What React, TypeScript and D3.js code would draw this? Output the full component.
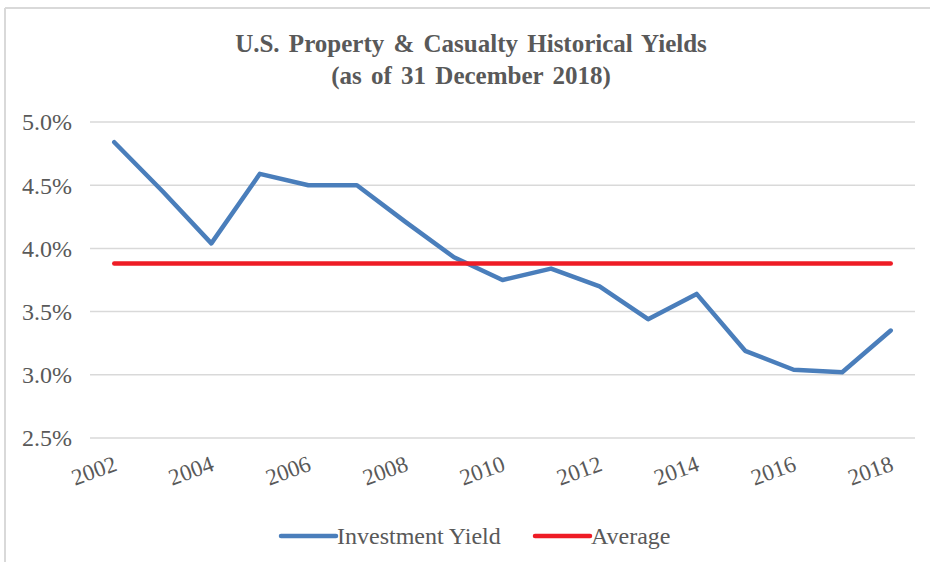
import React from "react";
import * as d3 from "d3";

const years = [2002, 2003, 2004, 2005, 2006, 2007, 2008, 2009, 2010, 2011, 2012, 2013, 2014, 2015, 2016, 2017, 2018];
const investmentYield = [4.84, 4.45, 4.04, 4.59, 4.5, 4.5, 4.21, 3.93, 3.75, 3.84, 3.7, 3.44, 3.64, 3.19, 3.04, 3.02, 3.35];
const averageYield = 3.88;
const yTicks = [2.5, 3.0, 3.5, 4.0, 4.5, 5.0];
const xTickYears = [2002, 2004, 2006, 2008, 2010, 2012, 2014, 2016, 2018];
const titleLines = ["U.S. Property & Casualty Historical Yields", "(as of 31 December 2018)"];
const legendItems = [
  { label: "Investment Yield", color: "#4a7ebb" },
  { label: "Average", color: "#ee1c25" },
];

const W = 930;
const H = 562;
const FONT = "'Liberation Serif', 'Times New Roman', serif";
const TEXT = "#595959";

export default function App() {
  const x = d3.scalePoint<number>().domain(years).range([90, 915]).padding(0.5);
  const y = d3.scaleLinear().domain([2.5, 5.0]).range([438, 122]);

  const lineGen = d3
    .line<number>()
    .x((_, i) => x(years[i]) as number)
    .y((d) => y(d));

  const avgPath = d3
    .line<number>()
    .x((yr) => x(yr) as number)
    .y(() => y(averageYield))([years[0], years[years.length - 1]]);

  return (
    <svg
      width={W}
      height={H}
      style={{ position: "absolute", left: 0, top: 0, background: "#fff" }}
    >
      <rect x={0} y={0} width={W} height={H} fill="#fff" />
      {/* frame */}
      <line x1={5} y1={8} x2={W} y2={8} stroke="#d9d9d9" strokeWidth={2} />
      <line x1={5} y1={8} x2={5} y2={H} stroke="#d9d9d9" strokeWidth={2} />

      {/* title */}
      {titleLines.map((t, i) => (
        <text
          key={t}
          x={471}
          y={52 + i * 32}
          textAnchor="middle"
          fontFamily={FONT}
          fontWeight="bold"
          fontSize={25}
          wordSpacing={3}
          fill={TEXT}
        >
          {t}
        </text>
      ))}

      {/* gridlines */}
      {yTicks.map((t) => (
        <line key={t} x1={90} x2={915} y1={y(t)} y2={y(t)} stroke="#d9d9d9" strokeWidth={1.5} />
      ))}

      {/* y labels */}
      {yTicks.map((t) => (
        <text
          key={"yl" + t}
          x={72}
          y={y(t)}
          dy="0.35em"
          textAnchor="end"
          fontFamily={FONT}
          fontSize={24}
          fill={TEXT}
        >
          {d3.format(".1f")(t) + "%"}
        </text>
      ))}

      {/* x labels */}
      {xTickYears.map((yr) => {
        const px = (x(yr) as number) + 4;
        const py = 470;
        return (
          <text
            key={"xl" + yr}
            x={px}
            y={py}
            textAnchor="end"
            transform={`rotate(-20 ${px} ${py})`}
            fontFamily={FONT}
            fontSize={23}
            fill={TEXT}
          >
            {yr}
          </text>
        );
      })}

      {/* series */}
      <path
        d={lineGen(investmentYield) || ""}
        fill="none"
        stroke={legendItems[0].color}
        strokeWidth={4.5}
        strokeLinejoin="round"
        strokeLinecap="round"
      />
      <path
        d={avgPath || ""}
        fill="none"
        stroke={legendItems[1].color}
        strokeWidth={4.5}
        strokeLinecap="round"
      />

      {/* legend */}
      {legendItems.map((it, i) => {
        const lx = i === 0 ? 281 : 535;
        const ly = 536;
        return (
          <g key={it.label}>
            <line x1={lx} x2={lx + 55} y1={ly} y2={ly} stroke={it.color} strokeWidth={4.5} strokeLinecap="round" />
            <text x={lx + 56} y={ly} dy="0.35em" fontFamily={FONT} fontSize={24} fill={TEXT}>
              {it.label}
            </text>
          </g>
        );
      })}
    </svg>
  );
}
